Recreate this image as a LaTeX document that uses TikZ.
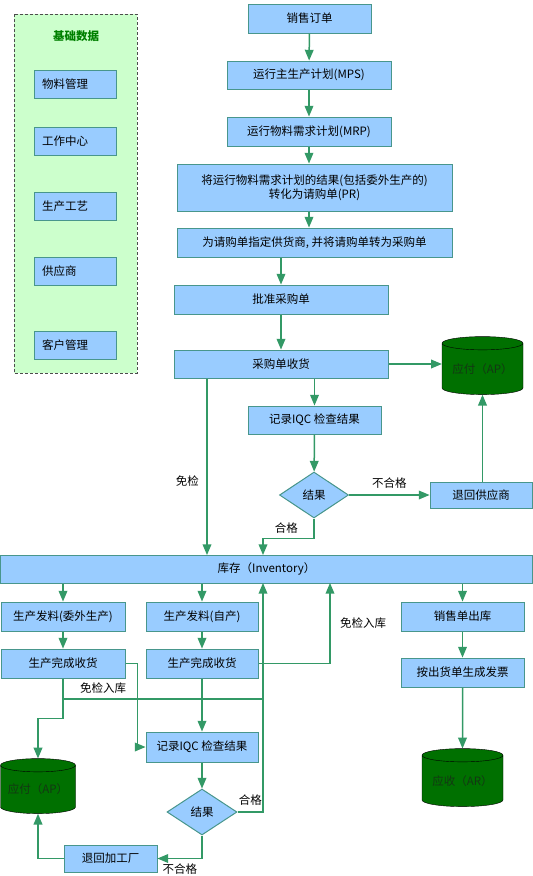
\documentclass[tikz,border=0pt]{standalone}
\usepackage{fontspec}
\newfontfamily\cjk{Noto Sans CJK SC}
\usetikzlibrary{arrows,shapes.geometric}
\definecolor{boxfill}{RGB}{153,204,255}
\definecolor{boxline}{RGB}{72,150,140}
\definecolor{flowgreen}{RGB}{51,153,102}
\definecolor{cylgreen}{RGB}{0,112,0}
\definecolor{cyltext}{RGB}{20,55,20}
\definecolor{panelfill}{RGB}{204,255,204}
\tikzset{font=\cjk\fontsize{11.5}{14}\selectfont}
\tikzset{every node/.append style={transform shape=false}}
\tikzset{
  box/.style={draw=boxline,fill=boxfill,line width=1pt,inner sep=0pt,minimum height=29pt,align=center},
  jcbox/.style={box,minimum height=28pt,inner xsep=8pt,text width=66pt,align=left},
  pd/.style={diamond,draw=boxline,fill=boxfill,line width=1pt,inner sep=0pt,minimum width=69pt,minimum height=46pt},
  cyl/.style={cylinder,shape border rotate=90,aspect=0.22,draw=black,fill=cylgreen,inner sep=0pt,
    minimum width=81pt,minimum height=58pt,text=cyltext},
  flow/.style={draw=flowgreen,line width=1.5pt,-triangle 45},
  line/.style={draw=flowgreen,line width=1.5pt}
}

\begin{document}
\begin{tikzpicture}[x=1pt,y=-1pt]
\useasboundingbox (0,0) rectangle (533,876);
% base data panel
\draw[fill=panelfill,draw=black!70,densely dashed,line width=1pt] (14,14) rectangle (137,373);
\node[text=green!50!black,font=\cjk\bfseries\fontsize{11.5}{14}\selectfont] (jcsj) at (76,36) {基础数据};
\foreach \y/\t [count=\i] in {84/物料管理, 141/工作中心, 206/生产工艺, 271.5/供应商, 345/客户管理}{
  \node[jcbox] (jc\i) at (75,\y) {\t};
};

% purchase flow
\node[box,minimum width=123pt] (xsdd) at (309.5,18.5) {销售订单};
\node[box,minimum width=164pt,minimum height=28pt] (mps) at (309,75) {运行主生产计划(MPS)};
\node[box,minimum width=164pt] (mrp) at (309,131.5) {运行物料需求计划(MRP)};
\node[box,minimum width=275pt,minimum height=47pt] (pr) at (314.5,187.5) {将运行物料需求计划的结果(包括委外生产的)\\转化为请购单(PR)};
\node[box,minimum width=275pt] (po) at (314.5,242.5) {为请购单指定供货商, 并将请购单转为采购单};
\node[box,minimum width=214pt] (pzcgd) at (281,299.5) {批准采购单};
\node[box,minimum width=214pt,minimum height=28pt] (cgsh) at (281,364) {采购单收货};
\node[cyl] (ap1) at (482.5,369) {应付（AP）};
\node[box,minimum width=133pt,minimum height=28pt] (iqc1) at (314.5,420) {记录IQC 检查结果};
\node[pd] (jg1) at (314,495) {结果};
\node[box,minimum width=102pt,minimum height=26pt] (thgys) at (481,495) {退回供应商};

\draw[flow] (xsdd) -- (mps);
\draw[flow] (mps) -- (mrp);
\draw[flow] (mrp) -- (mrp |- pr.north);
\draw[flow] (pr.south -| mrp) -- (po.north -| mrp);
\draw[flow] (po.south -| pzcgd) -- (pzcgd);
\draw[flow] (pzcgd) -- (cgsh);
\draw[flow] (cgsh.east) -- (ap1.west |- cgsh.east);
\draw[flow] (cgsh.south -| iqc1) -- (iqc1);
\draw[flow] (iqc1) -- (jg1);
\draw[flow] (jg1.east) -- node[above=2pt] {不合格} (thgys.west);
\draw[flow] (thgys.north -| ap1) -- (ap1.south);

% inventory
\node[box,minimum width=532pt,minimum height=28pt] (kc) at (266.5,569) {库存（Inventory）};
\coordinate (mj1) at (207,555);
\coordinate (hg1) at (263,555);
\coordinate (hg2) at (263,583);
\coordinate (mj2) at (330,583);
\coordinate (mjrk) at (263,699);
\draw[flow] (cgsh.south -| mj1) -- node[pos=0.58,left=4pt] {免检} (mj1);
\draw[flow] (jg1.south) -- ++(0,20) node[pos=0.5,left=12pt] {合格} -| (hg1);

% production and sales
\node[box,minimum width=124pt] (fl1) at (63,616.5) {生产发料(委外生产)};
\node[box,minimum width=124pt] (wc1) at (63,663.5) {生产完成收货};
\node[box,minimum width=112pt] (fl2) at (202,616.5) {生产发料(自产)};
\node[box,minimum width=112pt] (wc2) at (202,663.5) {生产完成收货};
\node[box,minimum width=112pt,minimum height=30pt] (iqc2) at (202,747) {记录IQC 检查结果};
\node[pd,minimum width=70pt] (jg2) at (202,812) {结果};
\node[box,minimum width=93pt,minimum height=27pt] (thjgc) at (110.5,858.5) {退回加工厂};
\node[cyl,minimum width=75pt,minimum height=55pt] (ap2) at (38,789.5) {应付（AP）};
\node[box,minimum width=123pt] (xsck) at (462.5,616.5) {销售单出库};
\node[box,minimum width=123pt] (fp) at (462.5,672.5) {按出货单生成发票};
\node[cyl] (ar) at (462.5,781) {应收（AR）};

\draw[flow] (kc.south -| fl1) -- (fl1);
\draw[flow] (fl1) -- (wc1);
\draw[flow] (kc.south -| fl2) -- (fl2);
\draw[flow] (fl2) -- (wc2);
\draw[flow] (kc.south -| xsck) -- (xsck);
\draw[flow] (xsck) -- (fp);
\draw[flow] (fp) -- (ar);
\draw[flow] (wc1.east) -- ++(12,0) |- (iqc2.west);
\draw[flow] (wc2) -- (iqc2);
\draw[flow] (iqc2) -- (jg2);
\draw[flow] (jg2.east) -| node[pos=0.25,above=2pt] {合格} (hg2);
\draw[flow] (jg2.south) |- node[pos=0.75,below=1pt] {不合格} (thjgc.east);
\draw[flow] (thjgc.west) -| (ap2.south);
\draw[line] (wc1.south) -- (wc1.south |- mjrk) -- node[pos=0.2,above=1pt] {免检入库} (mjrk);
\draw[flow] (wc1.south) -- ++(0,40) -| (ap2.north);
\draw[flow] (wc2.east) -| node[pos=0.75,right=6pt] {免检入库} (mj2);
\end{tikzpicture}
\end{document}
